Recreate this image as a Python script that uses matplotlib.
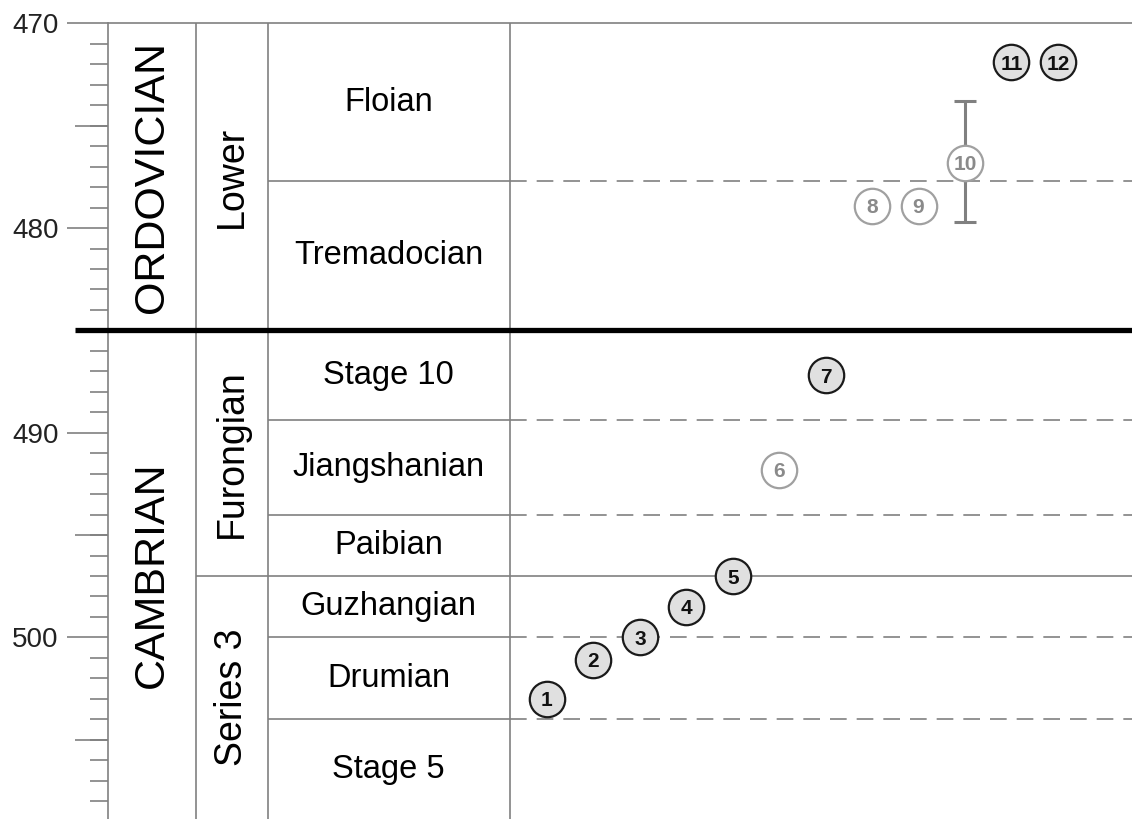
import numpy as np
import matplotlib.pyplot as plt

plt.rcParams['font.family'] = ['Liberation Sans', 'DejaVu Sans']

# stage boundaries (Ma) and names, youngest first
stage_tops = [470.0, 477.7, 485.0, 489.4, 494.0, 497.0, 500.0, 504.0]
stage_names = ['Floian', 'Tremadocian', 'Stage 10', 'Jiangshanian',
               'Paibian', 'Guzhangian', 'Drumian', 'Stage 5']
series_names = ['Lower', 'Furongian', 'Series 3']
series_tops = [470.0, 485.0, 497.0]
system_names = ['ORDOVICIAN', 'CAMBRIAN']
system_tops = [470.0, 485.0]

# dated horizons
sample_ids = [1, 2, 3, 4, 5, 6, 7, 8, 9, 10, 11, 12]
sample_ages = [503.0, 501.1, 500.0, 498.5, 497.0, 491.8, 487.2, 478.9, 478.9, 476.8, 471.9, 471.9]
sample_open = [False, False, False, False, False, True, False, True, True, True, False, False]
err_id = 10
err_low, err_high = 473.8, 479.7

age_min, age_max = 468.86, 508.87

fig = plt.figure(figsize=(11.32, 8.19), dpi=100)
ax = fig.add_axes([0, 0, 1, 1])
ax.set_xlim(0, 1132)
ax.set_ylim(age_max, age_min)

# column edges in pixel units
x_axis, x_ser, x_stg, x_dat, x_end = 108, 196, 268, 509.5, 1132
grey = '#808080'
lw = 1.2

for s in ['top', 'right', 'bottom']:
    ax.spines[s].set_visible(False)
ax.spines['left'].set_position(('data', x_axis))
ax.spines['left'].set_bounds(470, age_max)
ax.spines['left'].set_color(grey)
ax.spines['left'].set_linewidth(lw)
ax.set_xticks([])
ax.set_yticks(np.arange(470, 501, 10))
ax.set_yticks(np.arange(470, 509, 1), minor=True)
ax.tick_params(axis='y', which='major', length=29.5, width=lw, color=grey,
               labelsize=20, pad=6, labelcolor='#222222')
ax.tick_params(axis='y', which='minor', length=13, width=lw, color=grey)
# half-decade ticks
ax.hlines([475, 495, 505], 75, x_axis, color=grey, lw=lw)

# frame
ax.hlines(470, x_axis, x_end, color=grey, lw=lw)
ax.vlines([x_ser, x_stg, x_dat], 470, age_max, color=grey, lw=lw)
dash = (0, (10, 6))
for t in stage_tops[1:]:
    if t == 485.0:
        ax.hlines(t, 75, x_end, color='black', lw=3.8, zorder=3)
    elif t in series_tops:
        ax.hlines(t, x_ser, x_end, color=grey, lw=lw)
    else:
        ax.hlines(t, x_stg, x_dat, color=grey, lw=lw)
        ax.hlines(t, x_dat, x_end, color=grey, lw=lw, linestyle=dash)

# labels
bottoms = stage_tops[1:] + [age_max]
for name, top, bot in zip(stage_names, stage_tops, bottoms):
    ax.text((x_stg + x_dat) / 2, (top + bot) / 2, name, ha='center', va='center', fontsize=23.5)
bottoms = series_tops[1:] + [age_max]
for name, top, bot in zip(series_names, series_tops, bottoms):
    ax.text((x_ser + x_stg) / 2, (top + bot) / 2, name, ha='center', va='center',
            rotation=90, fontsize=27)
bottoms = system_tops[1:] + [age_max]
for name, top, bot in zip(system_names, system_tops, bottoms):
    ax.text((x_axis + x_ser) / 2, (top + bot) / 2, name, ha='center', va='center',
            rotation=90, fontsize=31)

# samples
x0, step = 500.5, 46.45
for sid, age, hollow in zip(sample_ids, sample_ages, sample_open):
    x = x0 + step * sid
    if sid == err_id:
        ax.errorbar(x, age, yerr=[[age - err_low], [err_high - age]], fmt='none',
                    ecolor=grey, elinewidth=2.2, capsize=8, capthick=2.2, zorder=4)
    face = 'white' if hollow else '#e0e0e0'
    edge = '#a0a0a0' if hollow else '#1a1a1a'
    tcol = '#8a8a8a' if hollow else '#111111'
    ax.plot(x, age, 'o', ms=25.5, mfc=face, mec=edge, mew=1.6, zorder=5)
    ax.text(x, age, str(sid), ha='center', va='center_baseline', fontsize=15,
            fontweight='bold', color=tcol, zorder=6)

fig.savefig('out.png', dpi=100)
